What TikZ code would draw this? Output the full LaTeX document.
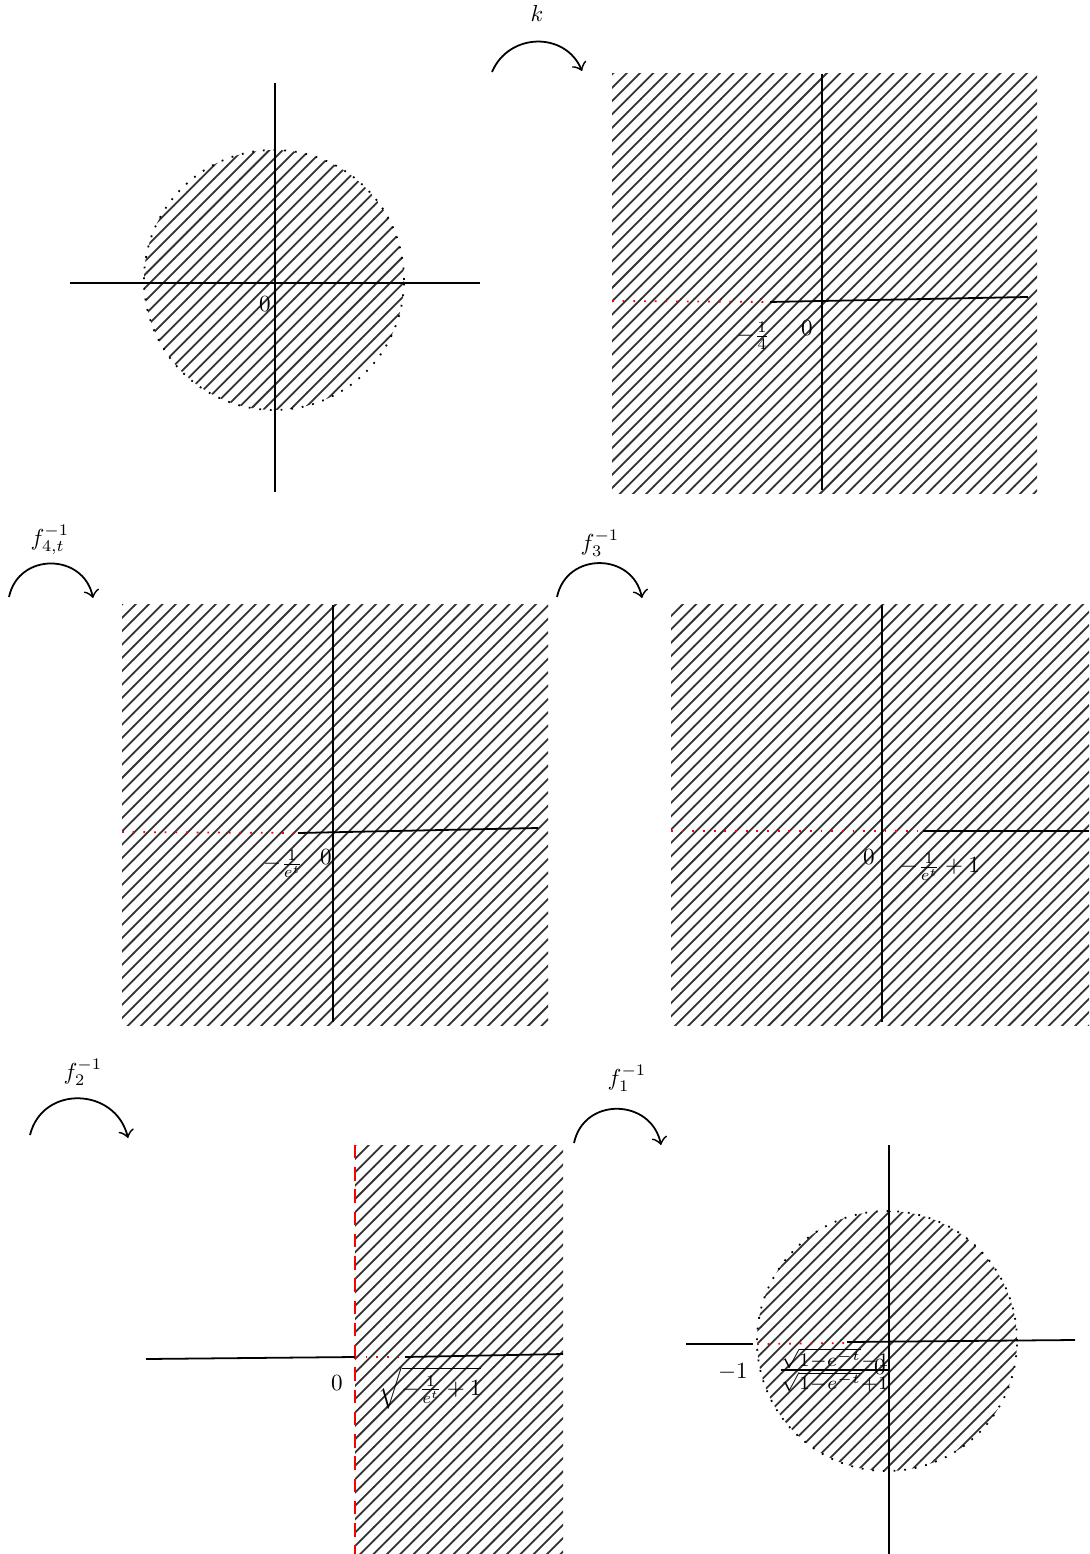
\documentclass[tikz,border=0pt]{standalone}
\usepackage{amsmath}
\usepackage{amssymb}
\usepackage{tikz}
\usetikzlibrary{patterns}

\begin{document}
\begin{tikzpicture}[
            x=0.79cm, y=0.79cm,
            every node/.style={scale=0.52},
            region/.style={pattern=north east lines, pattern color=black!80},
            rim/.style={dotted},
            cut/.style={red, dotted},
            rededge/.style={red, densely dashed, semithick},
            maparrow/.style={->, out=78, in=102, looseness=1.4},
            ]
            \def\R{1.3}
            \useasboundingbox (0,0) rectangle (10.89,-15.54);

            \coordinate (c1) at (2.74,-2.80);
            \fill[region] (c1) circle (\R);
            \draw[rim] (c1) circle (\R);
            \coordinate (a1w) at (0.70,-2.83);
            \coordinate (a1e) at (4.80,-2.83);
            \coordinate (a1n) at (2.75,-0.83);
            \coordinate (a1s) at (2.75,-4.92);
            \draw (a1w) -- (a1e);
            \draw (a1n) -- (a1s);
            \node (o1) at (2.65,-3.04) {$0$};

            \coordinate (k1) at (4.92,-0.72);
            \coordinate (k2) at (5.82,-0.71);
            \draw[maparrow, out=67, in=113, looseness=1.22] (k1) to (k2);
            \node (lk) at (5.37,-0.13) {$k$};

            \fill[region] (6.12,-0.74) rectangle (10.37,-4.94);
            \coordinate (a2n) at (8.22,-0.74);
            \coordinate (a2s) at (8.22,-4.90);
            \coordinate (h2w) at (6.12,-3.01);
            \coordinate (h2c) at (7.70,-3.02);
            \coordinate (h2e) at (10.28,-2.97);
            \draw (a2n) -- (a2s);
            \draw[cut] (h2w) -- (h2c);
            \draw (h2c) -- (h2e);
            \node (q2) at (7.53,-3.36) {$-\frac{1}{4}$};
            \node (o2) at (8.07,-3.28) {$0$};

            \coordinate (f4a) at (0.09,-5.97);
            \coordinate (f4b) at (0.93,-5.98);
            \draw[maparrow] (f4a) to (f4b);
            \node (lf4) at (0.50,-5.40) {$f_{4,t}^{-1}$};

            \fill[region] (1.22,-6.05) rectangle (5.48,-10.25);
            \coordinate (a3n) at (3.33,-6.05);
            \coordinate (a3s) at (3.33,-10.22);
            \coordinate (h3w) at (1.22,-8.32);
            \coordinate (h3c) at (2.98,-8.33);
            \coordinate (h3e) at (5.38,-8.28);
            \draw (a3n) -- (a3s);
            \draw[cut] (h3w) -- (h3c);
            \draw (h3c) -- (h3e);
            \node (q3) at (2.83,-8.64) {$-\frac{1}{e^t}$};
            \node (o3) at (3.26,-8.57) {$0$};

            \coordinate (f3a) at (5.57,-5.97);
            \coordinate (f3b) at (6.42,-5.98);
            \draw[maparrow] (f3a) to (f3b);
            \node (lf3) at (6.00,-5.43) {$f_3^{-1}$};

            \fill[region] (6.71,-6.05) rectangle (10.89,-10.25);
            \coordinate (a4n) at (8.82,-6.05);
            \coordinate (a4s) at (8.82,-10.22);
            \coordinate (h4w) at (6.71,-8.31);
            \coordinate (h4c) at (9.23,-8.31);
            \coordinate (h4e) at (10.89,-8.31);
            \draw (a4n) -- (a4s);
            \draw[cut] (h4w) -- (h4c);
            \draw (h4c) -- (h4e);
            \node (o4) at (8.69,-8.57) {$0$};
            \node (q4) at (9.40,-8.67) {$-\frac{1}{e^t}+1$};

            \coordinate (f2a) at (0.30,-11.35);
            \coordinate (f2b) at (1.28,-11.38);
            \draw[maparrow, out=76, in=104, looseness=1.36] (f2a) to (f2b);
            \node (lf2) at (0.83,-10.72) {$f_2^{-1}$};

            \fill[region] (3.55,-11.45) rectangle (5.63,-15.54);
            \coordinate (e5n) at (3.55,-11.45);
            \coordinate (e5s) at (3.55,-15.54);
            \coordinate (h5w) at (1.46,-13.59);
            \coordinate (h5m) at (3.55,-13.57);
            \coordinate (h5c) at (4.05,-13.57);
            \coordinate (h5e) at (5.63,-13.54);
            \draw[rededge] (e5n) -- (e5s);
            \draw (h5w) -- (h5m);
            \draw[cut] (h5m) -- (h5c);
            \draw (h5c) -- (h5e);
            \node (o5) at (3.37,-13.83) {$0$};
            \node (q5) at (4.30,-13.88) {$\sqrt{-\frac{1}{e^t}+1}$};

            \coordinate (f1a) at (5.74,-11.43);
            \coordinate (f1b) at (6.61,-11.45);
            \draw[maparrow] (f1a) to (f1b);
            \node (lf1) at (6.27,-10.78) {$f_1^{-1}$};

            \coordinate (c6) at (8.87,-13.41);
            \fill[region] (c6) circle (\R);
            \draw[rim] (c6) circle (\R);
            \coordinate (a6n) at (8.89,-11.45);
            \coordinate (a6s) at (8.89,-15.54);
            \coordinate (h6w) at (6.86,-13.44);
            \coordinate (h6b) at (7.53,-13.44);
            \coordinate (h6m) at (7.57,-13.44);
            \coordinate (h6c) at (8.45,-13.43);
            \coordinate (h6d) at (8.47,-13.42);
            \coordinate (h6e) at (10.75,-13.40);
            \draw (a6n) -- (a6s);
            \draw (h6w) -- (h6b);
            \draw[cut] (h6m) -- (h6c);
            \draw (h6d) -- (h6e);
            \node (m6) at (7.33,-13.72) {$-1$};
            \node[scale=1.18] (q6) at (8.35,-13.70) {$\frac{\sqrt{1-e^{-t}}-1}{\sqrt{1-e^{-t}}+1}$};
            \node (o6) at (8.80,-13.67) {$0$};
        \end{tikzpicture}
\end{document}
